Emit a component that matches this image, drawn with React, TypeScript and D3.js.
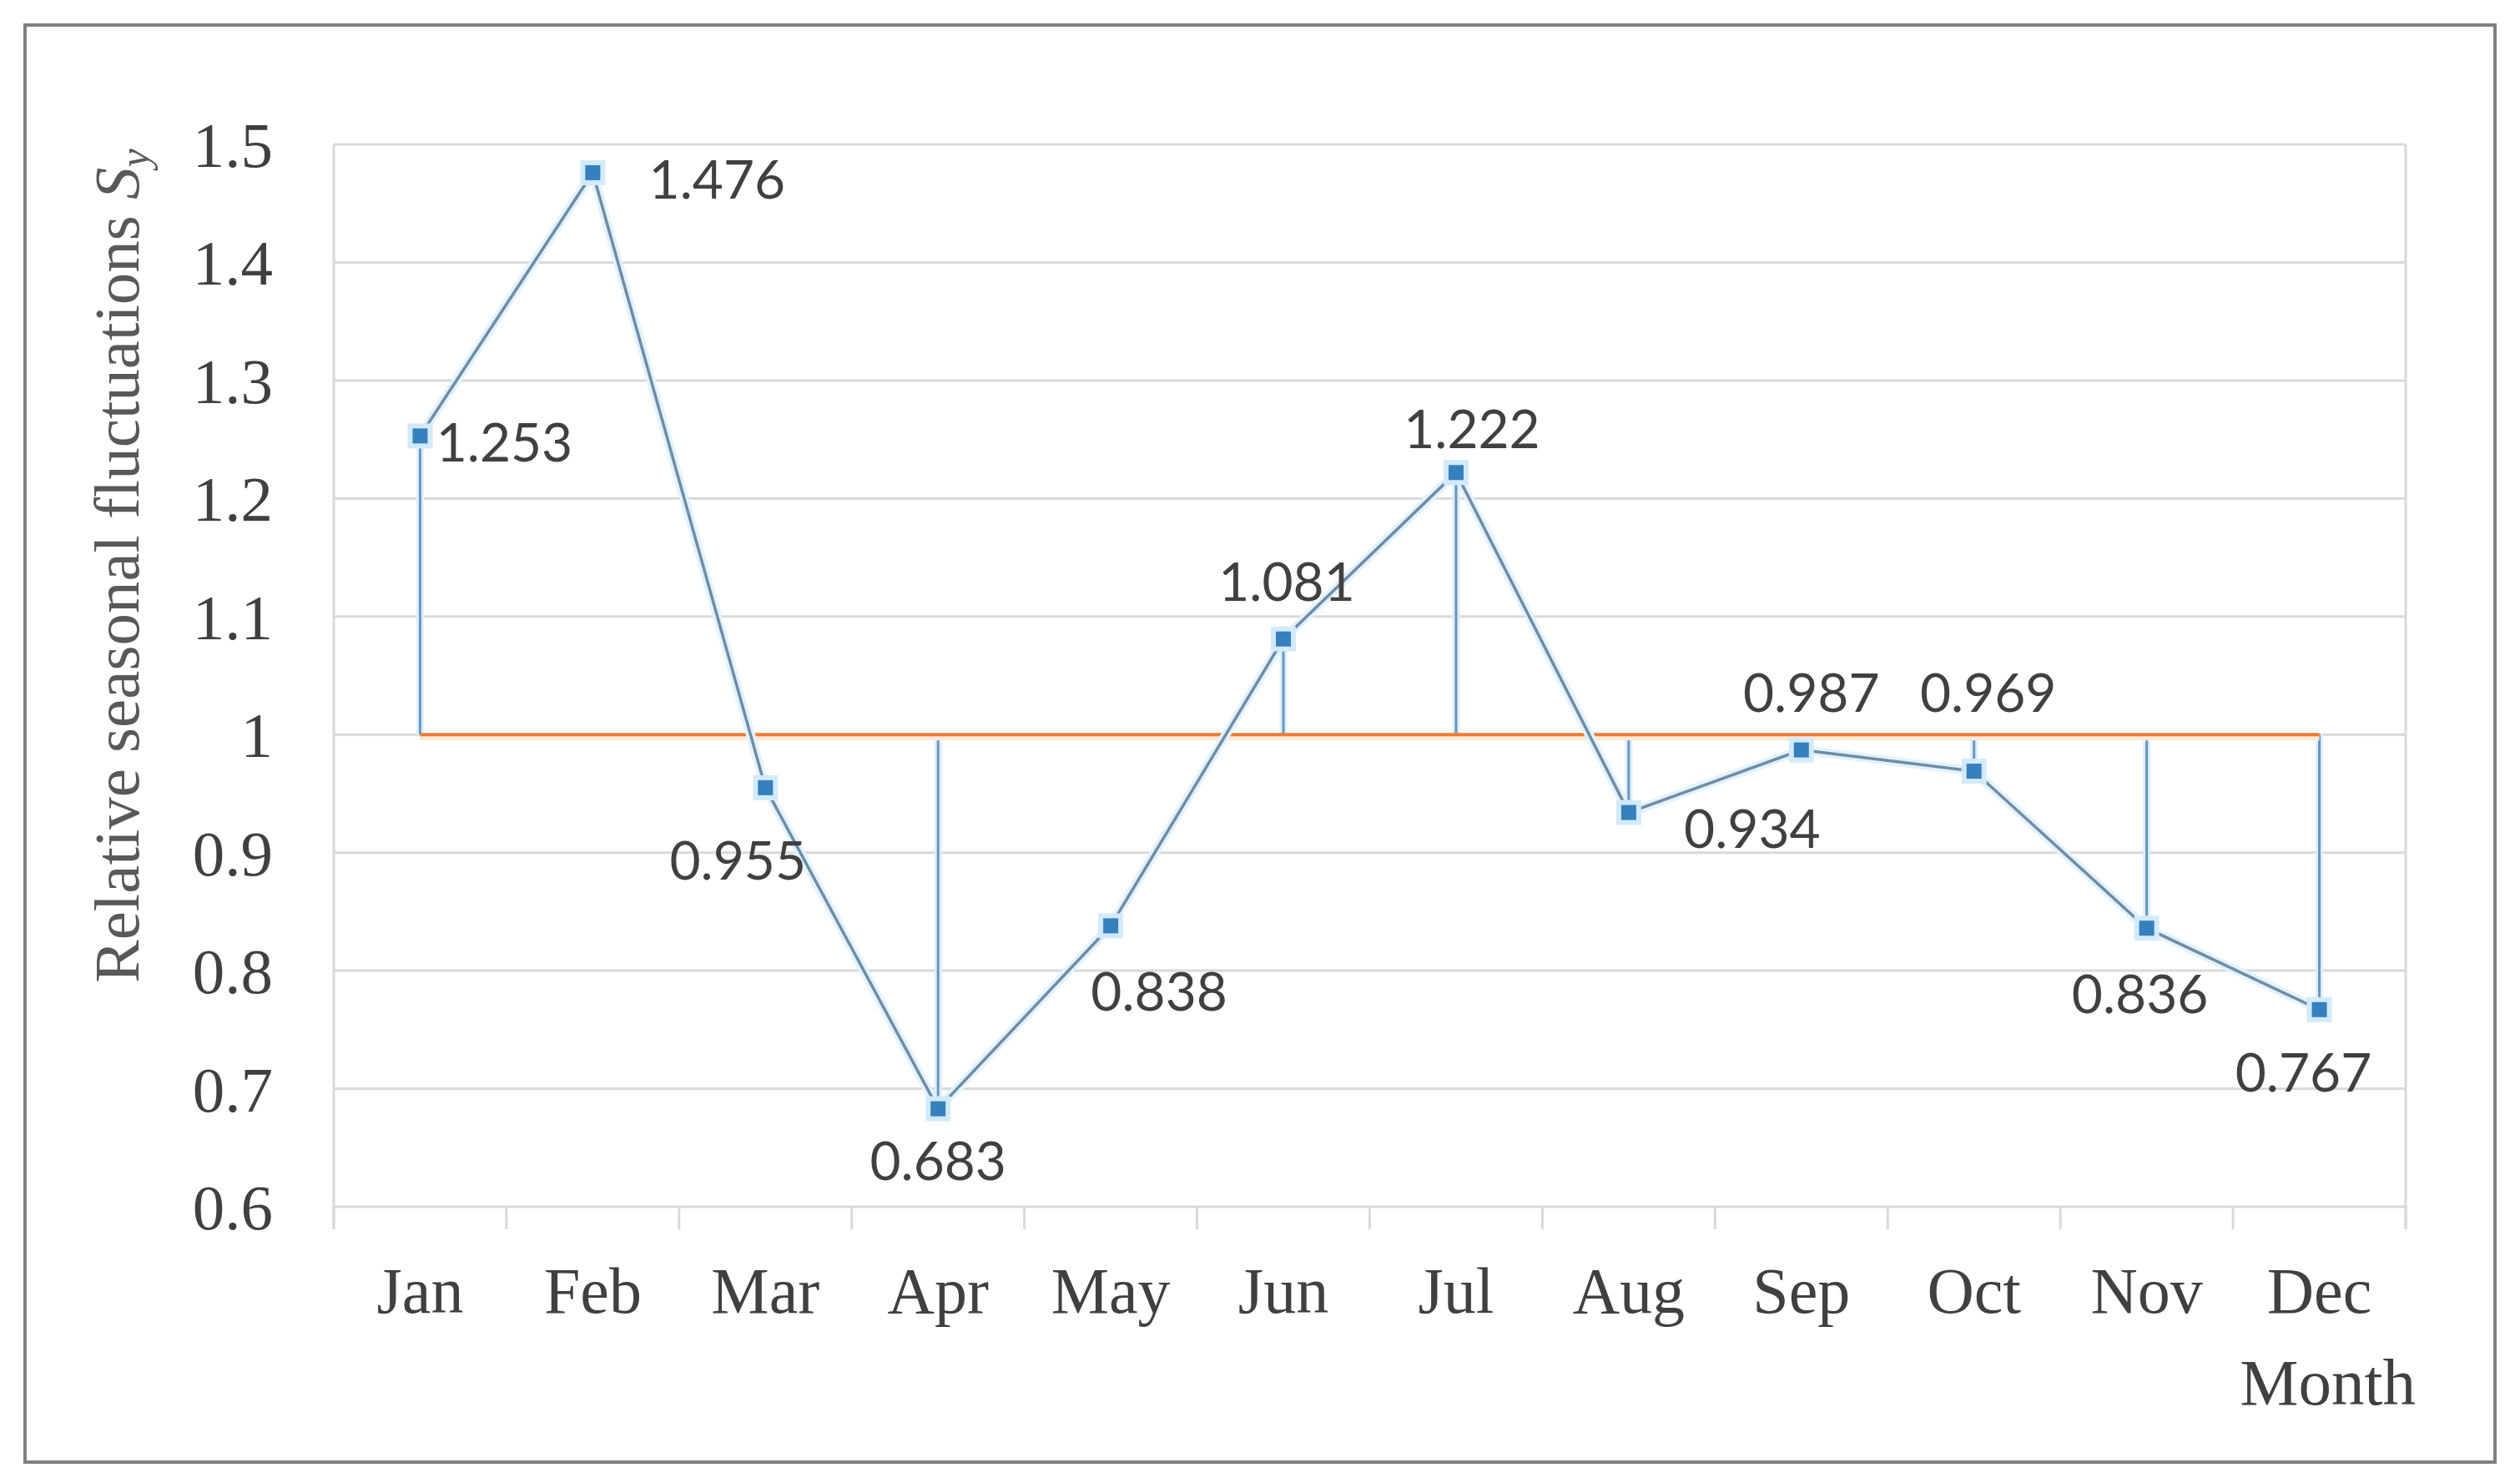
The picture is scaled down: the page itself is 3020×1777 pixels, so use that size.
import React, { useEffect } from "react";
import * as d3 from "d3";

const months = ["Jan", "Feb", "Mar", "Apr", "May", "Jun", "Jul", "Aug", "Sep", "Oct", "Nov", "Dec"];
const values = [1.253, 1.476, 0.955, 0.683, 0.838, 1.081, 1.222, 0.934, 0.987, 0.969, 0.836, 0.767];
const dropLine = [true, false, false, true, false, true, true, true, false, true, true, true];
const yTicks = [0.6, 0.7, 0.8, 0.9, 1, 1.1, 1.2, 1.3, 1.4, 1.5];
const baseline = 1;
// label offsets relative to marker (dx, dy)
const labelOffsets: [number, number][] = [
  [101, 8], [149, 8], [-33, 87], [0, 62], [58, 79], [4, -69],
  [19, -52], [148, 19], [12, -69], [17, -94], [-8, 79], [-19, 75],
];

const W = 3020, H = 1777;
const L = 400, R = 2883, T = 173, B = 1446;

export default function App() {
  useEffect(() => {
    document.body.style.margin = "0";
  }, []);
  const x = d3.scaleBand<string>().domain(months).range([L, R]).padding(0);
  const y = d3.scaleLinear().domain([0.6, 1.5]).range([B, T]);
  const cx = (m: string) => (x(m) as number) + x.bandwidth() / 2;
  const line = d3.line<number>().x((_, i) => cx(months[i])).y((v) => y(v));
  const pathD = line(values) as string;
  const edges = d3.range(months.length + 1).map((i) => L + i * x.bandwidth());
  const serif = "'Liberation Serif', 'Times New Roman', serif";
  const sans = "Lato, 'Open Sans', sans-serif";

  return (
    <svg width={W} height={H} style={{ display: "block", background: "#fff" }}>
      <rect x={30} y={30} width={2960} height={1722} fill="#fff" stroke="#808080" strokeWidth={4} />
      {/* gridlines */}
      {yTicks.map((t) => (
        <line key={t} x1={L} x2={R} y1={y(t)} y2={y(t)} stroke="#d9d9d9" strokeWidth={3} />
      ))}
      <line x1={L} x2={L} y1={T} y2={B + 27} stroke="#d9d9d9" strokeWidth={3} />
      <line x1={R} x2={R} y1={T} y2={B + 27} stroke="#d9d9d9" strokeWidth={3} />
      {edges.map((e, i) => (
        <line key={i} x1={e} x2={e} y1={B} y2={B + 27} stroke="#d9d9d9" strokeWidth={3} />
      ))}
      {/* y tick labels */}
      {yTicks.map((t) => (
        <text key={t} x={327} y={y(t)} dy="0.35em" textAnchor="end" fontFamily={serif} fontSize={77} fill="#404040">
          {String(t)}
        </text>
      ))}
      {/* x labels */}
      {months.map((m) => (
        <text key={m} x={cx(m)} y={1573} textAnchor="middle" fontFamily={serif} fontSize={78} fill="#404040">
          {m}
        </text>
      ))}
      <text x={2895} y={1683} textAnchor="end" fontFamily={serif} fontSize={79} fill="#404040">Month</text>
      {/* y title */}
      <text transform={`translate(166,678) rotate(-90)`} textAnchor="middle" fontFamily={serif} fontSize={77} fill="#595959">
        Relative seasonal fluctuations <tspan fontStyle="italic">S</tspan>
        <tspan fontStyle="italic" fontSize={50} dy={12}>y</tspan>
      </text>
      {/* drop lines */}
      {values.map((v, i) =>
        dropLine[i] ? (
          <g key={i}>
            <line x1={cx(months[i])} x2={cx(months[i])} y1={y(baseline)} y2={y(v)} stroke="#dcefff" strokeWidth={9} />
            <line x1={cx(months[i])} x2={cx(months[i])} y1={y(baseline)} y2={y(v)} stroke="#6a96bd" strokeWidth={3} />
          </g>
        ) : null
      )}
      {/* baseline (orange) */}
      <line x1={cx(months[0])} x2={cx(months[months.length - 1])} y1={y(baseline) + 4} y2={y(baseline) + 4} stroke="#fde9d6" strokeWidth={6} />
      <line x1={cx(months[0])} x2={cx(months[months.length - 1])} y1={y(baseline)} y2={y(baseline)} stroke="#ED7D31" strokeWidth={4} />
      {/* series line */}
      <path d={pathD} fill="none" stroke="#e2f2fd" strokeWidth={11} />
      <path d={pathD} fill="none" stroke="#6f8ca6" strokeWidth={3.5} />
      {/* markers */}
      {values.map((v, i) => (
        <g key={i}>
          <rect x={cx(months[i]) - 15} y={y(v) - 15} width={30} height={30} fill="#d3eafa" />
          <rect x={cx(months[i]) - 9} y={y(v) - 9} width={18} height={18} fill="#3580bd" />
        </g>
      ))}
      {/* data labels */}
      {values.map((v, i) => (
        <text key={i} x={cx(months[i]) + labelOffsets[i][0]} y={y(v) + labelOffsets[i][1]} dy="0.36em" textAnchor="middle" fontFamily={sans} fontSize={64} fill="#404040">
          {d3.format(".3f")(v)}
        </text>
      ))}
    </svg>
  );
}
